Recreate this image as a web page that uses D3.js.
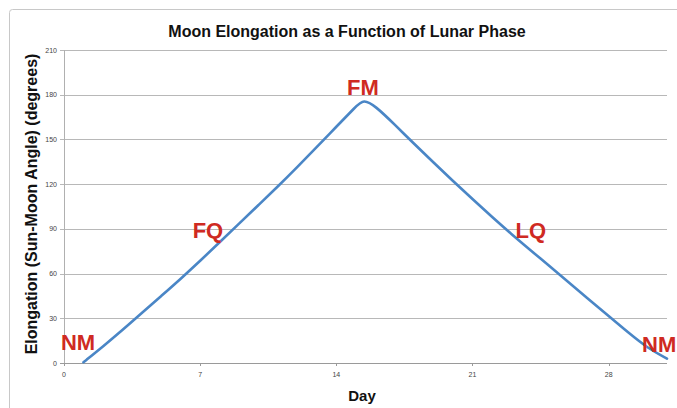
<!DOCTYPE html>
<html>
<head>
<meta charset="utf-8">
<script src="https://cdn.jsdelivr.net/npm/d3@7"></script>
<style>
  html, body { margin: 0; padding: 0; background: #fff; }
  svg { display: block; font-family: "Liberation Sans", Arial, Helvetica, sans-serif; }
</style>
</head>
<body>
<div id="chart"></div>
<script>
// Moon elongation vs day of lunar cycle

// data
const days = [1, 2, 3, 4, 5, 6, 7, 8, 9, 10, 11, 12, 13, 14, 15, 15.4, 16, 17, 18, 19, 20, 21, 22, 23, 24, 25, 26, 27, 28, 29, 30, 31];
const elongation = [0.5, 11, 22, 33.5, 45, 56.5, 68.5, 81, 93.5, 106, 118.5, 131.5, 145, 158.5, 172, 177, 172.5, 160, 147, 134.5, 122, 110, 98, 86.5, 75.5, 64.5, 53.5, 42.5, 31.5, 20.5, 10, 3];

const xTicks = [0, 7, 14, 21, 28];
const yTicks = [0, 30, 60, 90, 120, 150, 180, 210];

// phase annotations
const phaseLabels = ['NM', 'FQ', 'FM', 'LQ', 'NM'];
const phaseDays = [0.72, 7.4, 15.37, 24.0, 30.6];
const phaseValues = [8.7, 84, 180, 84, 7.4];

const width = 677;
const height = 408;

const svg = d3.select('#chart')
    .append('svg')
    .attr('width', width)
    .attr('height', height);

// outer chart frame
svg.append('rect')
    .attr('x', 9.5)
    .attr('y', 9.5)
    .attr('width', 720)
    .attr('height', 430)
    .attr('rx', 3)
    .style('fill', '#fff')
    .style('stroke', '#c8c8c8');

const x = d3.scaleLinear().domain([0, 31]).range([64, 667]);
const y = d3.scaleLinear().domain([0, 210]).range([363, 50]);

// gridlines
svg.append('g')
    .selectAll('line')
    .data(yTicks)
    .enter().append('line')
    .attr('x1', x(0) - 4)
    .attr('x2', x(31))
    .attr('y1', d => Math.round(y(d)) + 0.5)
    .attr('y2', d => Math.round(y(d)) + 0.5)
    .style('stroke', d => d === 0 ? '#9a9a9a' : '#b8b8b8')
    .style('stroke-width', 1);

// y axis line
svg.append('line')
    .attr('x1', Math.round(x(0)) + 0.5)
    .attr('x2', Math.round(x(0)) + 0.5)
    .attr('y1', y(210))
    .attr('y2', y(0))
    .style('stroke', '#b0b0b0');

// x tick marks
svg.append('g')
    .selectAll('line')
    .data(xTicks)
    .enter().append('line')
    .attr('x1', d => Math.round(x(d)) + 0.5)
    .attr('x2', d => Math.round(x(d)) + 0.5)
    .attr('y1', y(0))
    .attr('y2', y(0) + 3)
    .style('stroke', '#9a9a9a');

// tick labels
svg.append('g')
    .selectAll('text')
    .data(yTicks)
    .enter().append('text')
    .attr('x', x(0) - 7)
    .attr('y', d => y(d) + 2.5)
    .attr('text-anchor', 'end')
    .style('font-size', '7px')
    .style('fill', '#444')
    .text(d => d);

svg.append('g')
    .selectAll('text')
    .data(xTicks)
    .enter().append('text')
    .attr('x', d => x(d))
    .attr('y', y(0) + 14)
    .attr('text-anchor', 'middle')
    .style('font-size', '7px')
    .style('fill', '#444')
    .text(d => d);

// the curve
const points = days.map((d, i) => [d, elongation[i]]);
const line = d3.line()
    .x(d => x(d[0]))
    .y(d => y(d[1]))
    .curve(d3.curveBasis);

svg.append('path')
    .datum(points)
    .attr('d', line)
    .style('fill', 'none')
    .style('stroke', '#4a86c6')
    .style('stroke-width', 2.6)
    .style('stroke-linecap', 'round');

// phase labels
svg.append('g')
    .selectAll('text')
    .data(phaseLabels)
    .enter().append('text')
    .attr('x', (d, i) => x(phaseDays[i]))
    .attr('y', (d, i) => y(phaseValues[i]))
    .attr('text-anchor', 'middle')
    .style('font-size', '22px')
    .style('font-weight', 'bold')
    .style('fill', '#cf2a22')
    .text(d => d);

// titles
svg.append('text')
    .attr('x', 347)
    .attr('y', 37)
    .attr('text-anchor', 'middle')
    .style('font-size', '16px')
    .style('font-weight', 'bold')
    .style('fill', '#111')
    .text('Moon Elongation as a Function of Lunar Phase');

svg.append('text')
    .attr('x', 362)
    .attr('y', 401)
    .attr('text-anchor', 'middle')
    .style('font-size', '15px')
    .style('font-weight', 'bold')
    .style('fill', '#111')
    .text('Day');

svg.append('text')
    .attr('transform', 'translate(37,204) rotate(-90)')
    .attr('text-anchor', 'middle')
    .style('font-size', '16px')
    .style('font-weight', 'bold')
    .style('fill', '#111')
    .text('Elongation (Sun-Moon Angle) (degrees)');
</script>
</body>
</html>
